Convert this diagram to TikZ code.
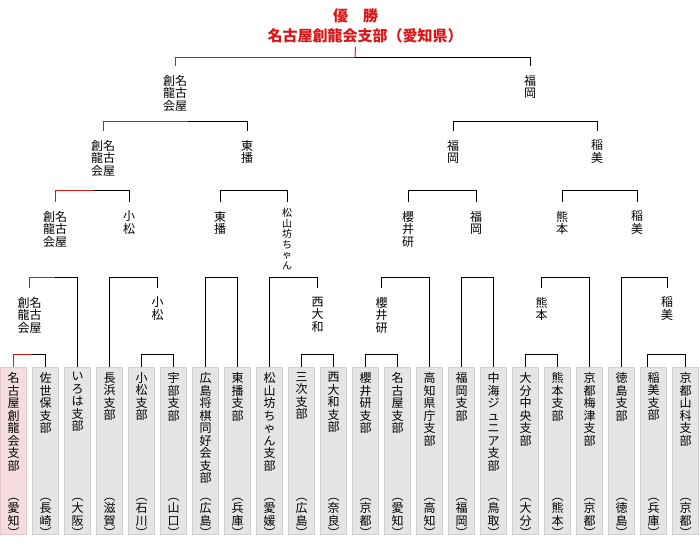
\documentclass[tikz,border=0pt]{standalone}
\usepackage{fontspec}
\setmainfont{Noto Sans CJK JP}
\definecolor{winred}{RGB}{220,20,20}
\definecolor{pinkfill}{RGB}{243,221,223}
\definecolor{pinkline}{RGB}{232,198,201}
\newcommand{\shibu}[2]{\parbox[t][157pt][t]{14pt}{\centering #1\par\vfill\centering #2\par\vspace{-8pt}}}

\begin{document}
\begin{tikzpicture}[x=1pt,y=-1pt]
                \tikzstyle{edge}=[line width=1pt]
                \tikzstyle{winedge}=[edge, draw=winred]
                \tikzstyle{branch}=[draw=black!18, fill=black!10, line width=1pt, anchor=north, minimum width=26pt, minimum height=167pt, inner sep=0pt, font=\fontsize{12}{12.5}\selectfont]
                \tikzstyle{champion}=[branch, draw=pinkline, fill=pinkfill]
                \tikzstyle{winner}=[anchor=north, inner sep=0pt, outer ysep=9pt, align=center, font=\fontsize{12}{12.5}\selectfont]
                \tikzstyle{title}=[inner sep=0pt, text=winred, font=\bfseries\fontsize{15}{18}\selectfont]

                \useasboundingbox (0,0) rectangle (700,550);

                \node[title] (t1) at (355.5,16) {優　勝};
                \node[title] (t2) at (365,35.5) {名古屋創龍会支部（愛知県）};
                \coordinate (final) at (355,57);

                % the 22 branches
                \node[champion] (b1) at (13.5,367) {\shibu{名\\古\\屋\\創\\龍\\会\\支\\部}{︵\\愛\\知\\︶}};
                \node[branch] (b2) at (45.5,367) {\shibu{佐\\世\\保\\支\\部}{︵\\長\\崎\\︶}};
                \node[branch] (b3) at (77.5,367) {\shibu{い\\ろ\\は\\支\\部}{︵\\大\\阪\\︶}};
                \node[branch] (b4) at (109.5,367) {\shibu{長\\浜\\支\\部}{︵\\滋\\賀\\︶}};
                \node[branch] (b5) at (141.5,367) {\shibu{小\\松\\支\\部}{︵\\石\\川\\︶}};
                \node[branch] (b6) at (173.5,367) {\shibu{宇\\部\\支\\部}{︵\\山\\口\\︶}};
                \node[branch] (b7) at (205.5,367) {\shibu{広\\島\\将\\棋\\同\\好\\会\\支\\部}{︵\\広\\島\\︶}};
                \node[branch] (b8) at (237.5,367) {\shibu{東\\播\\支\\部}{︵\\兵\\庫\\︶}};
                \node[branch] (b9) at (269.5,367) {\shibu{松\\山\\坊\\ち\\ゃ\\ん\\支\\部}{︵\\愛\\媛\\︶}};
                \node[branch] (b10) at (301.5,367) {\shibu{三\\次\\支\\部}{︵\\広\\島\\︶}};
                \node[branch] (b11) at (333.5,367) {\shibu{西\\大\\和\\支\\部}{︵\\奈\\良\\︶}};
                \node[branch] (b12) at (365.5,367) {\shibu{櫻\\井\\研\\支\\部}{︵\\京\\都\\︶}};
                \node[branch] (b13) at (397.5,367) {\shibu{名\\古\\屋\\支\\部}{︵\\愛\\知\\︶}};
                \node[branch] (b14) at (429.5,367) {\shibu{高\\知\\県\\庁\\支\\部}{︵\\高\\知\\︶}};
                \node[branch] (b15) at (461.5,367) {\shibu{福\\岡\\支\\部}{︵\\福\\岡\\︶}};
                \node[branch] (b16) at (493.5,367) {\shibu{中\\海\\ジ\\ュ\\ニ\\ア\\支\\部}{︵\\鳥\\取\\︶}};
                \node[branch] (b17) at (525.5,367) {\shibu{大\\分\\中\\央\\支\\部}{︵\\大\\分\\︶}};
                \node[branch] (b18) at (557.5,367) {\shibu{熊\\本\\支\\部}{︵\\熊\\本\\︶}};
                \node[branch] (b19) at (589.5,367) {\shibu{京\\都\\梅\\津\\支\\部}{︵\\京\\都\\︶}};
                \node[branch] (b20) at (621.5,367) {\shibu{徳\\島\\支\\部}{︵\\徳\\島\\︶}};
                \node[branch] (b21) at (653.5,367) {\shibu{稲\\美\\支\\部}{︵\\兵\\庫\\︶}};
                \node[branch] (b22) at (685.5,367) {\shibu{京\\都\\山\\科\\支\\部}{︵\\京\\都\\︶}};

                % winners, round by round
                \node[winner] (w4a) at (29.5,288) {創名\\龍古\\会屋};
                \node[winner] (w4b) at (157.5,288) {小\\松};
                \node[winner] (w4c) at (317.5,288) {西\\大\\和};
                \node[winner] (w4d) at (381.5,288) {櫻\\井\\研};
                \node[winner] (w4e) at (541.5,288) {熊\\本};
                \node[winner] (w4f) at (667,288) {稲\\美};

                \node[winner] (w3a) at (55,202) {創名\\龍古\\会屋};
                \node[winner] (w3b) at (129,202) {小\\松};
                \node[winner] (w3c) at (220,202) {東\\播};
                \node[winner, outer ysep=6pt, font=\fontsize{10}{10.6}\selectfont] (w3d) at (287,202) {松\\山\\坊\\ち\\ゃ\\ん};
                \node[winner] (w3e) at (408,202) {櫻\\井\\研};
                \node[winner] (w3f) at (476,202) {福\\岡};
                \node[winner] (w3g) at (562,202) {熊\\本};
                \node[winner] (w3h) at (637,202) {稲\\美};

                \node[winner] (w2a) at (103,131) {創名\\龍古\\会屋};
                \node[winner] (w2b) at (247,131) {東\\播};
                \node[winner] (w2c) at (453,131) {福\\岡};
                \node[winner] (w2d) at (597,131) {稲\\美};

                \node[winner] (w1a) at (175,66) {創名\\龍古\\会屋};
                \node[winner] (w1b) at (530,66) {福\\岡};

                % first round
                \draw[edge] (b1.north) -- ++(0,-13) -| (b2.north);
                \draw[edge] (b5.north) -- ++(0,-13) -| (b6.north);
                \draw[edge] (b10.north) -- ++(0,-13) -| (b11.north);
                \draw[edge] (b12.north) -- ++(0,-13) -| (b13.north);
                \draw[edge] (b17.north) -- ++(0,-13) -| (b18.north);
                \draw[edge] ([xshift=-6.5pt]b21.north) -- ++(0,-13) -| (b22.north);

                % second round
                \draw[edge] (w4a.north) -- ++(0,-11) -| (b3.north);
                \draw[edge] (b4.north) -- ++(0,-90) -| (w4b.north);
                \draw[edge] (b7.north) -- ++(0,-90) -| (b8.north);
                \draw[edge] (b9.north) -- ++(0,-90) -| (w4c.north);
                \draw[edge] (w4d.north) -- ++(0,-11) -| (b14.north);
                \draw[edge] (b15.north) -- ++(0,-90) -| (b16.north);
                \draw[edge] (w4e.north) -- ++(0,-11) -| (b19.north);
                \draw[edge] (b20.north) -- ++(0,-90) -| (w4f.north);

                % third round
                \draw[edge] (w3a.north) -- ++(0,-12) -| (w3b.north);
                \draw[edge] (w3c.north) -- ++(0,-12) -| (w3d.north);
                \draw[edge] (w3e.north) -- ++(0,-12) -| (w3f.north);
                \draw[edge] (w3g.north) -- ++(0,-12) -| (w3h.north);

                % semi-finals and final
                \draw[edge] (w2a.north) -- ++(0,-10) -| (w2b.north);
                \draw[edge] (w2c.north) -- ++(0,-10) -| (w2d.north);
                \draw[edge] (final) -| (w1b.north);

                % path of the champion
                \draw[winedge] (b1.north) -- ++(0,-13) -- ++(18.5,0);
                \draw[winedge] (w4a.north) -- ++(0,-11) -- ++(25.5,0);
                \draw[winedge] (w3a.north) -- ++(0,-12) -- ++(39,0);
                \draw[winedge] (w2a.north) -- ++(0,-10) -- ++(85,0);
                \draw[winedge] (w1a.north) |- (final);
                \draw[winedge] (t1 |- t2.south) ++(0,4) -- (final);
\end{tikzpicture}
\end{document}
